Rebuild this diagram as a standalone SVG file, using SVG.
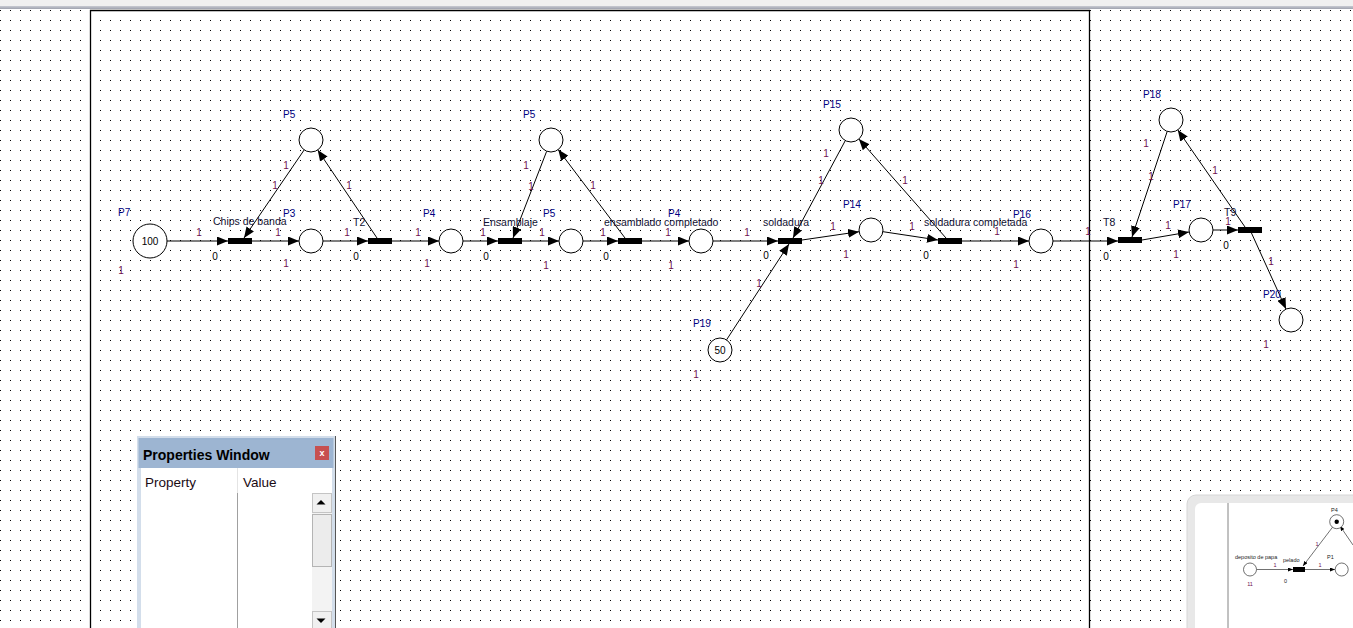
<svg xmlns="http://www.w3.org/2000/svg" width="1353" height="628" viewBox="0 0 1353 628">
<defs>
<pattern id="dots" width="10" height="10" patternUnits="userSpaceOnUse"><rect x="0" y="0" width="1" height="1" fill="#000"/></pattern>
<linearGradient id="topbar" x1="0" y1="0" x2="0" y2="1"><stop offset="0" stop-color="#c8cad2"/><stop offset="1" stop-color="#9ea2ae"/></linearGradient>
<marker id="ah" markerWidth="11" markerHeight="9" refX="11" refY="4.5" orient="auto" markerUnits="userSpaceOnUse"><path d="M0,0 L11,4.5 L0,9 z" fill="#000"/></marker>
<marker id="ahs" markerWidth="5" markerHeight="4" refX="5" refY="2" orient="auto" markerUnits="userSpaceOnUse"><path d="M0,0 L5,2 L0,4 z" fill="#000"/></marker>
</defs>
<style>
text{font-family:"Liberation Sans",Arial,sans-serif}
.pl{fill:#fff;stroke:#000;stroke-width:1}
.tr{fill:#000}
.arc{stroke:#000;stroke-width:1;fill:none;marker-end:url(#ah)}
.arcs{stroke:#333;stroke-width:0.7;fill:none;marker-end:url(#ahs)}
.w{fill:#701050;font-size:10px;text-anchor:middle}
.pn{fill:#000080;font-size:10px}
.tn{fill:#111133;font-size:10.5px}
.z{fill:#000;font-size:10px;text-anchor:middle}
.tok{fill:#000;font-size:10px;text-anchor:middle}
.mini{font-size:5.5px;fill:#222}
.miniw{font-size:5.5px;fill:#701050;text-anchor:middle}
</style>

<!-- background -->
<rect x="0" y="0" width="1353" height="628" fill="#fff"/>
<rect x="0" y="9" width="1353" height="619" fill="url(#dots)"/>
<rect x="0" y="0" width="1353" height="6" fill="#f0f0f0"/>
<rect x="0" y="6" width="1353" height="3" fill="url(#topbar)"/>
<path d="M90.5,640 V10.5 H1089.5 V640" fill="none" stroke="#000" stroke-width="1.3"/>

<!-- connectors -->
<g id="connectors">
<line class="arc" x1="167" y1="241" x2="228" y2="241"/>
<line class="arc" x1="252" y1="241" x2="299" y2="241"/>
<line class="arc" x1="323" y1="241" x2="368" y2="241"/>
<line class="arc" x1="392" y1="241" x2="439" y2="241"/>
<line class="arc" x1="463" y1="241" x2="498" y2="241"/>
<line class="arc" x1="522" y1="241" x2="559" y2="241"/>
<line class="arc" x1="583" y1="241" x2="618" y2="241"/>
<line class="arc" x1="642" y1="241" x2="689" y2="241"/>
<line class="arc" x1="713" y1="241" x2="778" y2="241"/>
<line class="arc" x1="802" y1="240" x2="859" y2="231.7"/>
<line class="arc" x1="883" y1="231.7" x2="938" y2="240"/>
<line class="arc" x1="962" y1="241" x2="1029" y2="241"/>
<line class="arc" x1="1053" y1="241" x2="1118" y2="241"/>
<line class="arc" x1="1142" y1="240" x2="1189" y2="232"/>
<line class="arc" x1="1213" y1="230" x2="1238" y2="230"/>
<line class="arc" x1="1251" y1="232" x2="1286" y2="309"/>
<line class="arc" x1="304.2" y1="149.9" x2="244" y2="238"/>
<line class="arc" x1="377" y1="238" x2="317.7" y2="150"/>
<line class="arc" x1="546.7" y1="151.2" x2="513" y2="238"/>
<line class="arc" x1="625" y1="238" x2="558.2" y2="149.6"/>
<line class="arc" x1="845.3" y1="140.6" x2="793" y2="238"/>
<line class="arc" x1="946" y1="238" x2="858.9" y2="139"/>
<line class="arc" x1="726.5" y1="339.9" x2="789" y2="244"/>
<line class="arc" x1="1167.2" y1="131.4" x2="1132" y2="237"/>
<line class="arc" x1="1245" y1="227" x2="1177.8" y2="129.9"/>
<text class="w" x="199" y="236">1</text>
<text class="w" x="278" y="236">1</text>
<text class="w" x="347" y="236">1</text>
<text class="w" x="418" y="236">1</text>
<text class="w" x="286" y="168.5">1</text>
<text class="w" x="275" y="188.5">1</text>
<text class="w" x="349" y="188.5">1</text>
<text class="w" x="483" y="236">1</text>
<text class="w" x="542" y="236">1</text>
<text class="w" x="603" y="236">1</text>
<text class="w" x="668" y="236">1</text>
<text class="w" x="747" y="236">1</text>
<text class="w" x="526" y="168.5">1</text>
<text class="w" x="531" y="189.5">1</text>
<text class="w" x="593" y="188.5">1</text>
<text class="w" x="833" y="230">1</text>
<text class="w" x="912" y="230">1</text>
<text class="w" x="997" y="235">1</text>
<text class="w" x="1088" y="235">1</text>
<text class="w" x="826" y="157">1</text>
<text class="w" x="821" y="183.5">1</text>
<text class="w" x="905" y="183.5">1</text>
<text class="w" x="759" y="287">1</text>
<text class="w" x="1168" y="228.5">1</text>
<text class="w" x="1228" y="225">1</text>
<text class="w" x="1271" y="265">1</text>
<text class="w" x="1146" y="147">1</text>
<text class="w" x="1151" y="180">1</text>
<text class="w" x="1215" y="173.5">1</text>
</g>

<!-- places -->
<g id="P7"><circle class="pl" cx="150" cy="241" r="17"/><text class="tok" x="150" y="244.5">100</text><text class="pn" x="118" y="215.5">P7</text><text class="w" x="121" y="273.5">1</text></g>
<g id="P5a"><circle class="pl" cx="311" cy="140" r="12"/><text class="pn" x="283" y="117.5">P5</text></g>
<g id="P3"><circle class="pl" cx="311" cy="241" r="12"/><text class="pn" x="283" y="217">P3</text><text class="w" x="286" y="267">1</text></g>
<g id="P4a"><circle class="pl" cx="451" cy="241" r="12"/><text class="pn" x="423" y="217">P4</text><text class="w" x="427" y="267">1</text></g>
<g id="P5b"><circle class="pl" cx="551" cy="140" r="12"/><text class="pn" x="523" y="117.5">P5</text></g>
<g id="P5c"><circle class="pl" cx="571" cy="241" r="12"/><text class="pn" x="543" y="217">P5</text><text class="w" x="546" y="268.5">1</text></g>
<g id="P4b"><circle class="pl" cx="701" cy="241" r="12"/><text class="pn" x="668" y="217">P4</text><text class="w" x="671" y="268.5">1</text></g>
<g id="P15"><circle class="pl" cx="851" cy="130" r="12"/><text class="pn" x="823" y="107.5">P15</text></g>
<g id="P14"><circle class="pl" cx="871" cy="230" r="12"/><text class="pn" x="843" y="207.5">P14</text><text class="w" x="846" y="257.5">1</text></g>
<g id="P16"><circle class="pl" cx="1041" cy="241" r="12"/><text class="pn" x="1013" y="217.5">P16</text><text class="w" x="1016" y="267.5">1</text></g>
<g id="P19"><circle class="pl" cx="720" cy="350" r="12"/><text class="tok" x="720" y="353.5">50</text><text class="pn" x="693" y="327">P19</text><text class="w" x="696" y="377.5">1</text></g>
<g id="P18"><circle class="pl" cx="1171" cy="120" r="12"/><text class="pn" x="1143" y="97.5">P18</text></g>
<g id="P17"><circle class="pl" cx="1201" cy="230" r="12"/><text class="pn" x="1173" y="207.5">P17</text><text class="w" x="1176" y="257.5">1</text></g>
<g id="P20"><circle class="pl" cx="1291" cy="320" r="12"/><text class="pn" x="1263" y="297.5">P20</text><text class="w" x="1266" y="347.5">1</text></g>

<!-- transitions -->
<g id="T1"><rect class="tr" x="228" y="238" width="24" height="6"/><text class="tn" x="213" y="225">Chips de banda</text><text class="z" x="215" y="260">0</text></g>
<g id="T2"><rect class="tr" x="368" y="238" width="24" height="6"/><text class="tn" x="353" y="225.5">T2</text><text class="z" x="356" y="260">0</text></g>
<g id="T3"><rect class="tr" x="498" y="238" width="24" height="6"/><text class="tn" x="483" y="225.5">Ensamblaje</text><text class="z" x="486" y="260">0</text></g>
<g id="T4"><rect class="tr" x="618" y="238" width="24" height="6"/><text class="tn" x="604" y="225.5">ensamblado completado</text><text class="z" x="606" y="260">0</text></g>
<g id="T5"><rect class="tr" x="778" y="238" width="24" height="6"/><text class="tn" x="763" y="226">soldadura</text><text class="z" x="766" y="259">0</text></g>
<g id="T6"><rect class="tr" x="938" y="238" width="24" height="6"/><text class="tn" x="924" y="226">soldadura completada</text><text class="z" x="926" y="259">0</text></g>
<g id="T8"><rect class="tr" x="1118" y="237" width="24" height="6"/><text class="tn" x="1103" y="225.5">T8</text><text class="z" x="1106" y="260">0</text></g>
<g id="T9"><rect class="tr" x="1238" y="227" width="24" height="6"/><text class="tn" x="1224" y="216">T9</text><text class="z" x="1226" y="249">0</text></g>

<!-- properties window -->
<g id="properties-window">
<rect x="137" y="436" width="198" height="200" fill="#d3deeb"/>
<rect x="138.5" y="438" width="195" height="30" fill="#9db5d2"/>
<text x="143" y="459.5" font-size="14" font-weight="bold" fill="#000">Properties Window</text>
<rect x="315" y="446" width="14" height="14" fill="#c75050"/>
<text x="322" y="456" font-size="9" font-weight="bold" fill="#fff" text-anchor="middle">x</text>
<rect x="141" y="468" width="191" height="170" fill="#fff"/>
<text x="145" y="487" font-size="13.5" fill="#1a0a14">Property</text>
<text x="243" y="487" font-size="13.5" fill="#1a0a14">Value</text>
<line x1="237.5" y1="468" x2="237.5" y2="493" stroke="#e4e4e4"/>
<line x1="237.5" y1="493" x2="237.5" y2="628" stroke="#a0a0a0"/>
<rect x="312" y="493" width="20" height="135" fill="#f3f3f3"/>
<rect x="312.5" y="493.5" width="19" height="19" fill="#f0f0f0" stroke="#c4c4c4"/>
<path d="M316.5,504.5 L325.5,504.5 L321,500 z" fill="#000"/>
<rect x="312.5" y="514.5" width="19" height="52" fill="#ececec" stroke="#b4b4b4"/>
<rect x="312.5" y="611.5" width="19" height="20" fill="#f0f0f0" stroke="#c4c4c4"/>
<path d="M316.5,618.5 L325.5,618.5 L321,623 z" fill="#000"/>
<line x1="335.5" y1="436" x2="335.5" y2="628" stroke="#555"/>
</g>

<!-- mini overview window -->
<g id="overview">
<rect x="1187" y="495" width="180" height="150" rx="9" fill="#e8e8e8" stroke="#d6d6d6"/>
<rect x="1195" y="503" width="170" height="140" rx="6" fill="#fff"/>
<line x1="1228" y1="503" x2="1228" y2="628" stroke="#666" stroke-width="0.8"/>
<line class="arcs" x1="1256.5" y1="569.5" x2="1293" y2="569.5"/>
<line class="arcs" x1="1305" y1="569.5" x2="1335" y2="569.5"/>
<line class="arcs" x1="1332.7" y1="527" x2="1303" y2="566"/>
<line class="arcs" x1="1353" y1="545" x2="1340" y2="526"/>
<circle cx="1250" cy="569.5" r="6.5" fill="#fff" stroke="#333" stroke-width="0.7"/>
<circle cx="1341.7" cy="569.5" r="6.5" fill="#fff" stroke="#333" stroke-width="0.7"/>
<circle cx="1336.7" cy="521.7" r="7" fill="#fff" stroke="#333" stroke-width="0.7"/>
<circle cx="1336.7" cy="521.7" r="2.2" fill="#000"/>
<rect x="1293" y="567" width="12" height="5" fill="#000"/>
<text class="mini" x="1235" y="559">deposito de papa</text>
<text class="mini" x="1283" y="562">pelado</text>
<text class="mini" x="1327" y="559">P1</text>
<text class="mini" x="1331" y="512">P4</text>
<text class="miniw" x="1250" y="586">11</text>
<text class="miniw" x="1275" y="567">1</text>
<text class="miniw" x="1320" y="567">1</text>
<text class="miniw" x="1317" y="546">1</text>
<text class="mini" x="1284" y="583">0</text>
</g>
</svg>
